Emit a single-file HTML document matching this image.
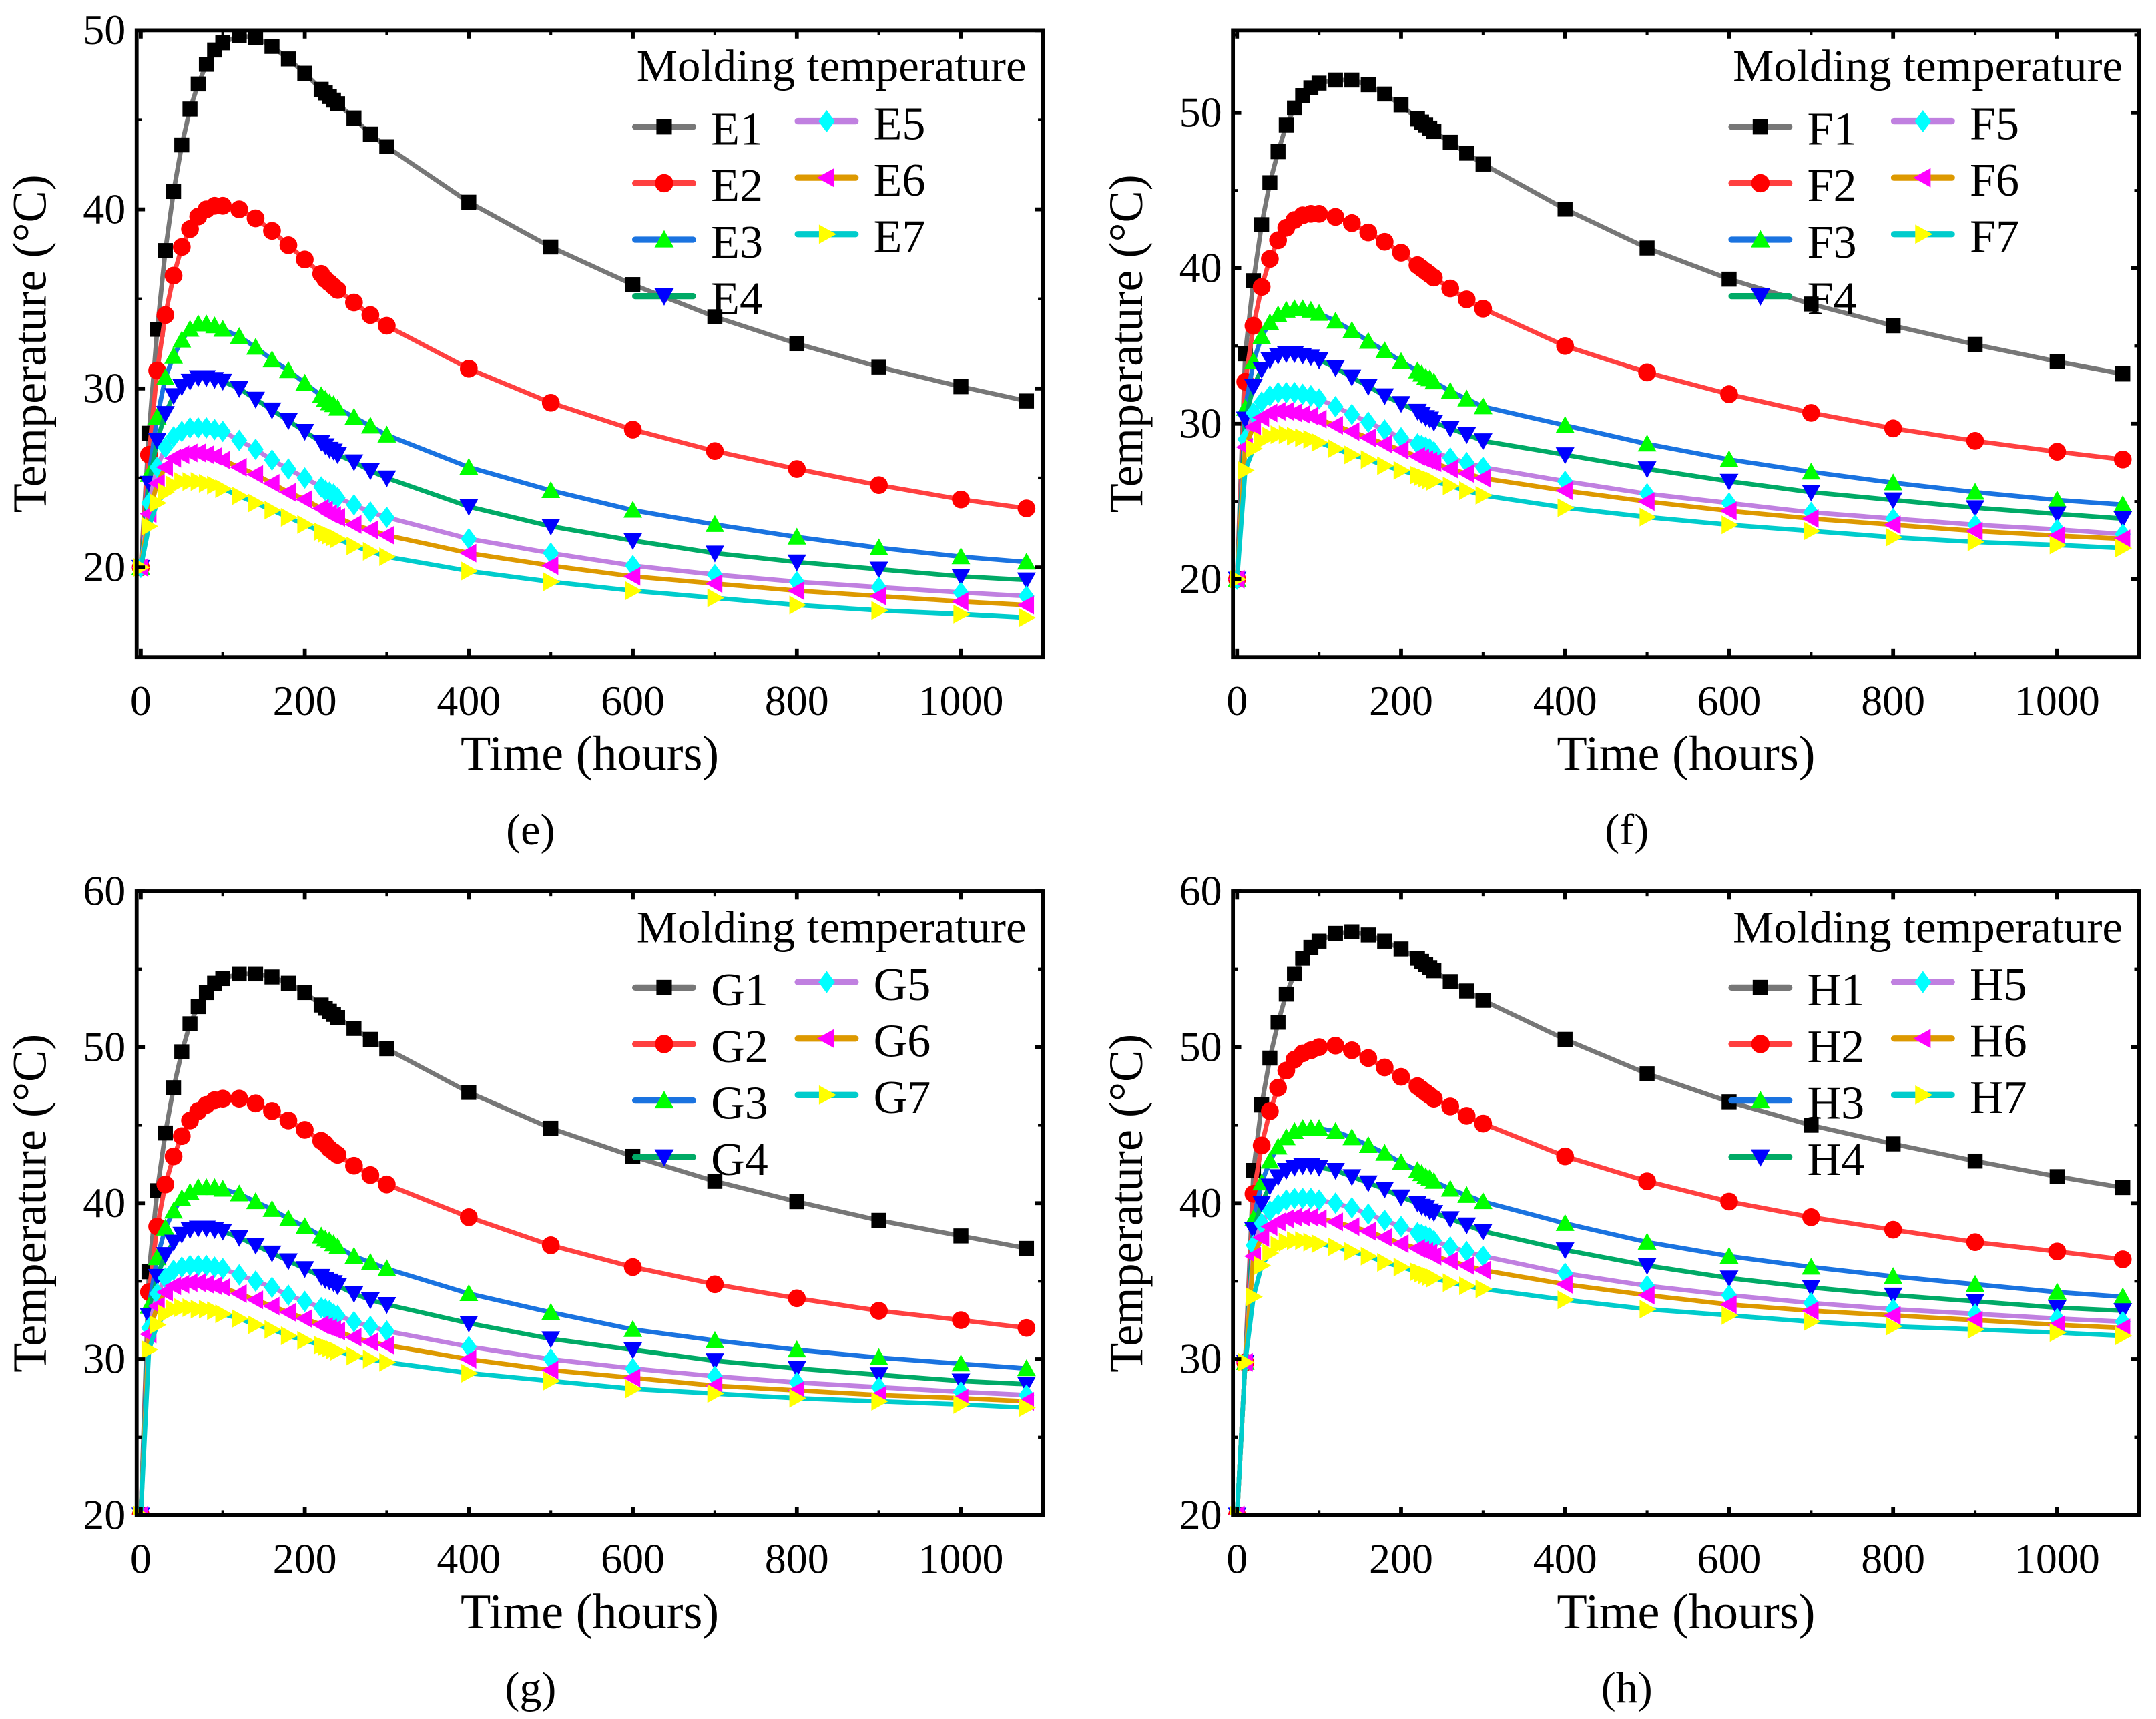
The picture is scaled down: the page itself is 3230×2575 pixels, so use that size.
<!DOCTYPE html>
<html><head><meta charset="utf-8"><style>
html,body{margin:0;padding:0;background:#fff;}
svg{display:block;}
text{font-family:"Liberation Serif",serif;fill:#000;}
</style></head><body>
<svg id="fig" width="3230" height="2575" viewBox="0 0 1565 1248" xmlns="http://www.w3.org/2000/svg"></svg>
<script>
const times=[0,10,20,30,40,50,60,70,80,90,100,120,140,160,180,200,220,225,230,235,240,260,280,300,400,500,600,700,800,900,1000,1080];
const xTicks=[0,200,400,600,800,1000];
const seriesE=[
[20,27.5,33.3,37.7,41,43.6,45.6,47,48.1,48.9,49.3,49.7,49.6,49.1,48.4,47.6,46.7,46.5,46.3,46.1,45.9,45.1,44.2,43.5,40.4,37.9,35.8,34,32.5,31.2,30.1,29.3],
[20,26.3,31,34.1,36.3,37.9,38.9,39.6,40,40.2,40.2,40,39.5,38.8,38,37.2,36.4,36.1,35.9,35.7,35.5,34.8,34.1,33.5,31.1,29.2,27.7,26.5,25.5,24.6,23.8,23.3],
[20,25.2,28.4,30.6,31.8,32.7,33.3,33.6,33.6,33.5,33.3,32.9,32.3,31.6,31,30.3,29.6,29.4,29.2,29.1,28.9,28.4,27.9,27.4,25.6,24.3,23.2,22.4,21.7,21.1,20.6,20.3],
[20,24.7,27.1,28.6,29.6,30.1,30.4,30.6,30.6,30.5,30.4,30,29.4,28.8,28.2,27.6,27,26.8,26.6,26.5,26.3,25.9,25.4,25,23.4,22.3,21.5,20.8,20.3,19.9,19.5,19.3],
[20,23.6,25.6,26.7,27.3,27.6,27.8,27.8,27.8,27.7,27.6,27.1,26.6,26,25.5,25,24.5,24.3,24.2,24.1,23.9,23.5,23.1,22.8,21.6,20.8,20.1,19.6,19.2,18.9,18.6,18.4],
[20,23,24.7,25.6,26.1,26.3,26.4,26.4,26.3,26.2,26,25.6,25.2,24.7,24.2,23.8,23.3,23.2,23,22.9,22.8,22.4,22.1,21.8,20.8,20.1,19.5,19.1,18.7,18.4,18.1,17.9],
[20,22.3,23.6,24.2,24.6,24.8,24.8,24.8,24.7,24.6,24.4,24,23.6,23.2,22.8,22.4,22,21.9,21.8,21.7,21.6,21.2,20.9,20.6,19.8,19.2,18.7,18.3,17.9,17.6,17.4,17.2]];
const seriesF=[
[20,34.5,39.2,42.8,45.5,47.5,49.2,50.3,51.1,51.6,51.9,52.1,52.1,51.8,51.2,50.5,49.6,49.4,49.2,49,48.8,48.1,47.4,46.7,43.8,41.3,39.3,37.7,36.3,35.1,34,33.2],
[20,32.7,36.3,38.8,40.6,41.8,42.6,43.1,43.4,43.5,43.5,43.3,42.9,42.3,41.7,41,40.2,40,39.8,39.6,39.4,38.7,38,37.4,35,33.3,31.9,30.7,29.7,28.9,28.2,27.7],
[20,31,34,35.6,36.5,37,37.3,37.4,37.4,37.3,37.1,36.6,36,35.3,34.7,34,33.4,33.2,33,32.9,32.7,32.1,31.6,31.1,29.9,28.7,27.7,26.9,26.2,25.6,25.1,24.8],
[20,30.3,32.4,33.5,34.1,34.4,34.5,34.5,34.4,34.3,34.1,33.6,33,32.4,31.8,31.3,30.8,30.6,30.4,30.3,30.1,29.7,29.3,28.9,28,27.1,26.3,25.6,25.1,24.6,24.2,23.9],
[20,29,30.7,31.4,31.8,32,32,32,31.9,31.8,31.6,31.1,30.6,30.1,29.6,29.1,28.7,28.6,28.5,28.4,28.2,27.8,27.5,27.2,26.3,25.5,24.9,24.3,23.9,23.5,23.2,22.9],
[20,28.5,29.8,30.4,30.7,30.8,30.8,30.7,30.6,30.5,30.3,29.9,29.5,29.1,28.7,28.3,27.9,27.8,27.7,27.6,27.5,27.1,26.8,26.5,25.7,25,24.4,23.9,23.5,23.1,22.8,22.6],
[20,27,28.4,28.9,29.2,29.3,29.3,29.2,29.1,29,28.8,28.4,28,27.7,27.3,27,26.7,26.6,26.5,26.4,26.3,26,25.7,25.4,24.6,24,23.5,23.1,22.7,22.4,22.2,22]];
const seriesG=[
[20,35.6,40.8,44.5,47.4,49.7,51.5,52.6,53.5,54.1,54.4,54.7,54.7,54.5,54.1,53.5,52.7,52.5,52.3,52.1,51.9,51.2,50.5,49.9,47.1,44.8,43,41.4,40.1,38.9,37.9,37.1],
[20,34.3,38.5,41.2,43,44.3,45.3,45.9,46.3,46.6,46.7,46.7,46.4,45.9,45.3,44.7,44,43.8,43.5,43.3,43.1,42.4,41.8,41.2,39.1,37.3,35.9,34.8,33.9,33.1,32.5,32],
[20,33.4,36.5,38.4,39.5,40.3,40.7,41,41,41,40.9,40.6,40.1,39.6,39,38.5,37.9,37.7,37.6,37.4,37.2,36.6,36.2,35.8,34.2,33,31.9,31.2,30.6,30.1,29.7,29.4],
[20,32.8,35.3,36.7,37.5,38,38.3,38.4,38.4,38.3,38.2,37.8,37.3,36.8,36.3,35.8,35.3,35.1,35,34.9,34.7,34.2,33.8,33.5,32.3,31.3,30.6,29.9,29.4,29,28.6,28.4],
[20,32,34.2,35.2,35.7,35.9,36,36,36,35.9,35.8,35.4,35,34.6,34.1,33.7,33.3,33.2,33.1,32.9,32.8,32.4,32.1,31.8,30.8,30,29.4,28.9,28.5,28.2,27.9,27.7],
[20,31.6,33.4,34.3,34.7,34.8,34.9,34.9,34.8,34.7,34.6,34.2,33.8,33.4,33,32.6,32.2,32.1,32,31.9,31.8,31.4,31.1,30.9,30,29.3,28.8,28.3,28,27.7,27.5,27.3],
[20,30.6,32.2,32.9,33.2,33.3,33.3,33.2,33.2,33.1,32.9,32.6,32.2,31.9,31.5,31.2,30.9,30.8,30.7,30.6,30.5,30.2,30,29.8,29.1,28.6,28.1,27.8,27.5,27.3,27.1,26.9]];
const seriesH=[
[20,29.8,42.1,46.3,49.3,51.6,53.4,54.7,55.7,56.4,56.8,57.3,57.4,57.2,56.8,56.3,55.7,55.5,55.3,55.1,54.9,54.2,53.6,53,50.5,48.3,46.5,45,43.8,42.7,41.7,41],
[20,29.8,40.6,43.7,45.9,47.4,48.5,49.2,49.6,49.8,50,50.1,49.8,49.3,48.7,48.1,47.5,47.3,47.1,46.9,46.7,46.2,45.6,45.1,43,41.4,40.1,39.1,38.3,37.5,36.9,36.4],
[20,29.8,39,41.3,42.7,43.6,44.2,44.6,44.8,44.8,44.8,44.6,44.2,43.7,43.2,42.6,42.1,41.9,41.7,41.6,41.4,40.9,40.5,40.1,38.7,37.5,36.6,35.9,35.3,34.8,34.3,34],
[20,29.8,38.3,40,41.1,41.7,42.1,42.3,42.4,42.4,42.3,42.1,41.7,41.3,40.9,40.4,40,39.8,39.7,39.5,39.4,39,38.6,38.2,37,36,35.2,34.6,34.1,33.7,33.3,33.1],
[20,29.8,37.3,38.7,39.5,39.9,40.2,40.3,40.3,40.3,40.2,40,39.7,39.3,38.9,38.5,38.1,38,37.9,37.8,37.6,37.2,36.9,36.6,35.5,34.7,34.1,33.6,33.2,32.9,32.6,32.4],
[20,29.8,36.6,37.8,38.5,38.8,39,39.1,39.1,39.1,39,38.8,38.5,38.2,37.8,37.4,37.1,37,36.9,36.8,36.6,36.3,36,35.7,34.8,34.1,33.5,33.1,32.8,32.5,32.2,32],
[20,29.8,34,36,36.8,37.3,37.5,37.6,37.6,37.5,37.4,37.2,36.9,36.6,36.2,35.9,35.6,35.5,35.4,35.3,35.2,34.9,34.7,34.5,33.8,33.2,32.8,32.4,32.1,31.9,31.7,31.5]];
const yTicksEF=[20,30,40,50];
const yTicksGH=[20,30,40,50,60];

const NS="http://www.w3.org/2000/svg";
const svg=document.getElementById('fig');
const lineCols=['#777777','#ff4040','#1a73e0','#00aa66','#c080e0','#dd9900','#00cccc'];
const mkCols=['#000000','#ff0000','#00ff00','#0000ff','#00ffff','#ff00ff','#ffff00'];
const mkTypes=['square','circle','up','down','diamond','left','right'];
function el(tag,attrs,parent){const e=document.createElementNS(NS,tag);for(const k in attrs)e.setAttribute(k,attrs[k]);(parent||svg).appendChild(e);return e;}
function marker(g,type,x,y,c,s){
  let e;
  if(type==='square') e=el('rect',{x:x-s*0.8,y:y-s*0.8,width:s*1.6,height:s*1.6,fill:c},g);
  else if(type==='circle') e=el('circle',{cx:x,cy:y,r:s*0.95,fill:c},g);
  else{let p;
    if(type==='up') p=[[x,y-s],[x+s,y+s*0.8],[x-s,y+s*0.8]];
    else if(type==='down') p=[[x,y+s],[x+s,y-s*0.8],[x-s,y-s*0.8]];
    else if(type==='left') p=[[x-s,y],[x+s*0.8,y-s],[x+s*0.8,y+s]];
    else if(type==='right') p=[[x+s,y],[x-s*0.8,y-s],[x-s*0.8,y+s]];
    else p=[[x,y-s*1.15],[x+s*0.85,y],[x,y+s*1.15],[x-s*0.85,y]];
    e=el('polygon',{points:p.map(q=>q.join(',')).join(' '),fill:c},g);}
  return e;
}
function panel(opt){
  const {L,R,T,B,ymin,ymax,yticks,data,prefix,label}=opt;
  const xmin=-5,xmax=1100;
  const sx=v=>L+(v-xmin)/(xmax-xmin)*(R-L);
  const sy=v=>B-(v-ymin)/(ymax-ymin)*(B-T);
  const g=el('g',{});
  
  
  const clip=el('clipPath',{id:'clip'+label},g);
  el('rect',{x:L-8,y:T,width:R-L+16,height:B-T},clip);
  const dg=el('g',{'clip-path':'url(#clip'+label+')'},g);
  data.forEach((ser,i)=>{
    const sg=el('g',{},dg);
    
    
    const pts=ser.map((v,j)=>sx(times[j]).toFixed(1)+','+sy(v).toFixed(1)).join(' ');
    el('polyline',{points:pts,fill:'none',stroke:lineCols[i],'stroke-width':3.3,'stroke-linejoin':'round'},sg);
    ser.forEach((v,j)=>{const m=marker(sg,mkTypes[i],sx(times[j]),sy(v),mkCols[i],6.8);
      
      });
  });
  const fr=el('rect',{x:L,y:T,width:R-L,height:B-T,fill:'none',stroke:'#000','stroke-width':2.8},g);
  
  
  xTicks.forEach(t=>{
    const x=sx(t);
    el('line',{x1:x,y1:B,x2:x,y2:B-6,stroke:'#000','stroke-width':2.8},g);
    el('line',{x1:x,y1:T,x2:x,y2:T+6,stroke:'#000','stroke-width':2.8},g);
    el('line',{x1:sx(t+100),y1:B,x2:sx(t+100),y2:B-3.5,stroke:'#000','stroke-width':2},g);
    el('line',{x1:sx(t+100),y1:T,x2:sx(t+100),y2:T+3.5,stroke:'#000','stroke-width':2},g);
    const tx=el('text',{x:x,y:B+42,'font-size':31,'text-anchor':'middle'},g);
    tx.textContent=t;
    
    
  });
  yticks.forEach(t=>{
    const y=sy(t);
    el('line',{x1:L,y1:y,x2:L+6,y2:y,stroke:'#000','stroke-width':2.8},g);
    el('line',{x1:R,y1:y,x2:R-6,y2:y,stroke:'#000','stroke-width':2.8},g);
    [t-5,t+5].forEach(m=>{if(m>ymin&&m<ymax){
      el('line',{x1:L,y1:sy(m),x2:L+3.5,y2:sy(m),stroke:'#000','stroke-width':2},g);
      el('line',{x1:R,y1:sy(m),x2:R-3.5,y2:sy(m),stroke:'#000','stroke-width':2},g);}});
    const ty=el('text',{x:L-8,y:y+10,'font-size':31,'text-anchor':'end'},g);
    ty.textContent=t;
    
    
  });
  const xt=el('text',{x:(L+R)/2,y:B+82,'font-size':36,'text-anchor':'middle'},g);
  xt.textContent='Time (hours)';
  
  
  const cy=(T+B)/2;
  const yt=el('text',{x:L-66,y:cy,'font-size':35,'text-anchor':'middle',transform:'rotate(-90 '+(L-66)+' '+cy+')'},g);
  yt.textContent='Temperature (°C)';
  
  
  const pl=el('text',{x:(L+R)/2-43,y:B+136,'font-size':32,'text-anchor':'middle'},g);
  pl.textContent='('+label+')';
  
  
  const lg=el('g',{},g);
  
  
  const lx=L+362;
  const tt=el('text',{x:lx+1,y:T+37,'font-size':33,textLength:283,lengthAdjust:'spacingAndGlyphs'},lg);
  tt.textContent='Molding temperature';
  
  
  for(let i=0;i<7;i++){
    const col=i<4?0:1, row=i<4?i:i-4;
    const x0=lx+(col?118:0), y0=T+(col?66:70)+row*41;
    const eg=el('g',{},lg);
    
    
    el('line',{x1:x0,y1:y0,x2:x0+42,y2:y0,stroke:lineCols[i],'stroke-width':4.5,'stroke-linecap':'round'},eg);
    marker(eg,mkTypes[i],x0+21,y0,mkCols[i],7);
    const lt=el('text',{x:x0+55,y:y0+13,'font-size':34},eg);
    lt.textContent=prefix+(i+1);
  }
}
panel({L:99,R:757,T:22,B:477,ymin:15,ymax:50,yticks:yTicksEF,data:seriesE,prefix:'E',label:'e'});
panel({L:895,R:1553,T:22,B:477,ymin:15,ymax:55.3,yticks:yTicksEF,data:seriesF,prefix:'F',label:'f'});
panel({L:99,R:757,T:647,B:1100,ymin:20,ymax:60,yticks:yTicksGH,data:seriesG,prefix:'G',label:'g'});
panel({L:895,R:1553,T:647,B:1100,ymin:20,ymax:60,yticks:yTicksGH,data:seriesH,prefix:'H',label:'h'});
</script>
</body></html>
